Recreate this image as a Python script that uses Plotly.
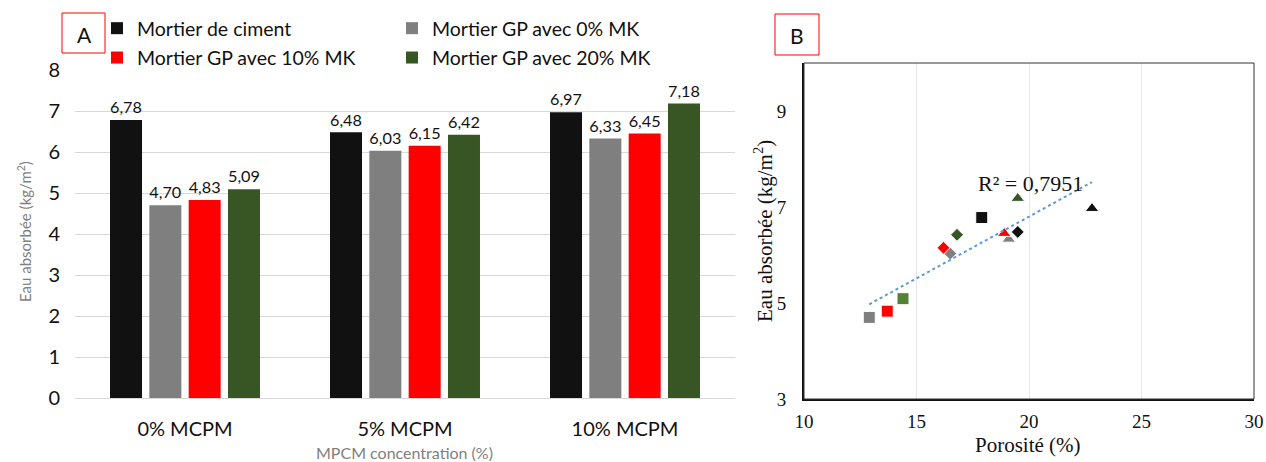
import numpy as np
import plotly.graph_objects as go

# --- données ---
categories = ["0% MCPM", "5% MCPM", "10% MCPM"]
series_names = ["Mortier de ciment", "Mortier GP avec 0% MK",
                "Mortier GP avec 10% MK", "Mortier GP avec 20% MK"]
eau_ciment = [6.78, 6.48, 6.97]
eau_gp0 = [4.70, 6.03, 6.33]
eau_gp10 = [4.83, 6.15, 6.45]
eau_gp20 = [5.09, 6.42, 7.18]

poro_ciment = [17.9, 19.5, 22.8]
poro_gp0 = [12.9, 16.5, 19.1]
poro_gp10 = [13.7, 16.2, 18.9]
poro_gp20 = [14.4, 16.8, 19.5]

r2_label = "R² = 0,7951"

bar_colors = ["#111111", "#7F7F7F", "#FF0000", "#375623"]
pt_colors = [["#111111"] * 3, ["#7F7F7F"] * 3, ["#FF0000"] * 3,
             ["#548235", "#375623", "#375623"]]
symbols = ["square", "diamond", "triangle-up"]
sizes = [12, 10, 12]

eau = [eau_ciment, eau_gp0, eau_gp10, eau_gp20]
poro = [poro_ciment, poro_gp0, poro_gp10, poro_gp20]

W, H = 1266, 462
fig = go.Figure()

# --- panneau A : barres ---
legends = ["legend", "legend2", "legend", "legend2"]
for i in range(4):
    fig.add_trace(go.Bar(
        x=categories, y=eau[i], name=series_names[i],
        marker=dict(color=bar_colors[i], line=dict(width=0)),
        text=eau[i], texttemplate="%{y:.2f}", textposition="outside",
        textfont=dict(family="Lato", size=17, color="#111111"),
        cliponaxis=False, legend=legends[i], legendgroup=str(i),
        xaxis="x", yaxis="y"))

# --- panneau B : nuage de points ---
for i in range(4):
    fig.add_trace(go.Scatter(
        x=poro[i], y=eau[i], mode="markers", showlegend=False,
        marker=dict(symbol=symbols, size=sizes, color=pt_colors[i], opacity=1),
        xaxis="x2", yaxis="y2"))

all_x = np.concatenate(poro)
all_y = np.concatenate(eau)
a, b = np.polyfit(all_x, all_y, 1)
xs = np.array([all_x.min(), all_x.max()])
fig.add_trace(go.Scatter(
    x=xs, y=a * xs + b, mode="lines", showlegend=False,
    line=dict(color="#5B9BD5", width=2, dash="dot"),
    xaxis="x2", yaxis="y2"))

serif = "Liberation Serif"


def note(text, x, y, size, color="#111111", family="Lato", angle=0, ref="paper"):
    if ref == "paper":
        x, y = x / W, 1 - y / H
    return dict(text=text, x=x, y=y, xref=ref if ref == "paper" else "x2",
                yref=ref if ref == "paper" else "y2", xanchor="center",
                yanchor="middle", textangle=angle, showarrow=False,
                font=dict(family=family, size=size, color=color))


fig.update_layout(
    width=W, height=H,
    margin=dict(l=0, r=0, t=0, b=0, autoexpand=False),
    paper_bgcolor="white", plot_bgcolor="white",
    separators=", ",
    barmode="group", bargap=0.285, bargroupgap=0.186,
    font=dict(family="Lato", color="#111111"),
    xaxis=dict(domain=[75 / W, 735 / W], anchor="y",
               showline=True, linecolor="#D9D9D9", linewidth=1,
               ticks="", ticklabelstandoff=13,
               tickfont=dict(family="Lato", size=20, color="#111111")),
    yaxis=dict(domain=[64 / H, 392 / H], anchor="x", range=[0, 8],
               dtick=1, showgrid=True, gridcolor="#D9D9D9", gridwidth=1,
               zeroline=False, showline=False, ticklabelstandoff=14,
               tickfont=dict(family="Lato", size=20, color="#111111")),
    xaxis2=dict(domain=[804 / W, 1254 / W], anchor="y2", range=[10, 30],
                dtick=5, showgrid=True, gridcolor="#E6E6E6", gridwidth=1,
                zeroline=False, showline=True, linecolor="#111111",
                linewidth=2, ticks="", ticklabelstandoff=4,
                tickfont=dict(family=serif, size=19, color="#111111")),
    yaxis2=dict(domain=[63 / H, 399 / H], anchor="x2", range=[3, 10],
                tickvals=[3, 5, 7, 9], showgrid=False, zeroline=False,
                showline=True, linecolor="#111111", linewidth=2,
                ticks="", ticklabelstandoff=12,
                tickfont=dict(family=serif, size=19, color="#111111")),
    legend=dict(x=97 / W, y=1 - 9 / H, xanchor="left", yanchor="top",
                orientation="v", tracegroupgap=1, bgcolor="rgba(0,0,0,0)",
                font=dict(family="Lato", size=19.5, color="#111111"),
                itemwidth=30),
    legend2=dict(x=392 / W, y=1 - 9 / H, xanchor="left", yanchor="top",
                 orientation="v", tracegroupgap=1, bgcolor="rgba(0,0,0,0)",
                 font=dict(family="Lato", size=19.5, color="#111111"),
                 itemwidth=30),
    shapes=[
        dict(type="rect", xref="paper", yref="paper",
             x0=62 / W, x1=105 / W, y0=1 - 53 / H, y1=1 - 13 / H,
             line=dict(color="#FF0000", width=1)),
        dict(type="rect", xref="paper", yref="paper",
             x0=775 / W, x1=819 / W, y0=1 - 55 / H, y1=1 - 14 / H,
             line=dict(color="#FF0000", width=1)),
        dict(type="rect", xref="x2 domain", yref="y2 domain",
             x0=0, x1=1, y0=0, y1=1,
             line=dict(color="#333333", width=1)),
    ],
    annotations=[
        note("A", 84, 34, 21),
        note("B", 797, 35, 21),
        note("Eau absorbée (kg/m<sup>2</sup>)", 24, 232, 15, "#7F7F7F", angle=-90),
        note("MPCM concentration (%)", 405, 452, 16, "#7F7F7F"),
        note("Eau absorbée (kg/m<sup>2</sup>)", 763, 231, 21, family=serif, angle=-90),
        note("Porosité (%)", 1028, 445, 21, family=serif),
        note(r2_label, 20.05, 7.5, 22, family=serif, ref="data"),
    ],
)

fig.write_html("out.html", config={"displayModeBar": False},
               post_script="document.body.style.margin='0';")
